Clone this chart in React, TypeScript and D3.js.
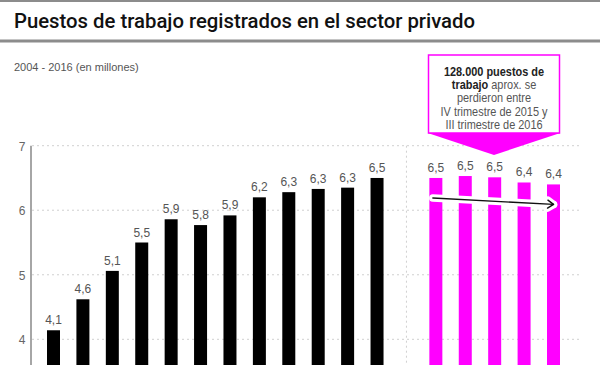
import {useEffect, useRef} from "react";
import * as d3 from "d3";

// periodos (los de la derecha son trimestres, separados por un hueco)
const annualPeriods = ["2004", "2005", "2006", "2007", "2008", "2009", "2010", "2011", "2012", "2013", "2014", "2015"];
const annualValues = [4.14, 4.62, 5.06, 5.5, 5.86, 5.77, 5.92, 6.2, 6.28, 6.33, 6.35, 6.5];
const annualLabels = ["4,1", "4,6", "5,1", "5,5", "5,9", "5,8", "5,9", "6,2", "6,3", "6,3", "6,3", "6,5"];

const quarterPeriods = ["IV-2015", "I-2016", "II-2016", "III-2016", "IV-2016"];
const quarterValues = [6.5, 6.53, 6.51, 6.43, 6.4];
const quarterLabels = ["6,5", "6,5", "6,5", "6,4", "6,4"];

const yTicks = [4, 5, 6, 7];

// flecha de la caída: [valor inicio, valor fin]
const arrowValues = [6.19, 6.09];

const noteLines = [
  [{t: "128.000 puestos de", b: true}],
  [{t: "trabajo", b: true}, {t: " aprox. se", b: false}],
  [{t: "perdieron entre", b: false}],
  [{t: "IV trimestre de 2015 y", b: false}],
  [{t: "III trimestre de 2016", b: false}],
];

const MAGENTA = "#ff00ff";
const GAP = "__gap__";

export default function App() {
  const svgRef = useRef<SVGSVGElement>(null);

  useEffect(() => {
    if (!svgRef.current) return;
    const width = 600;
    const height = 365;

    const svg = d3.select(svgRef.current);
    svg.selectAll("*").remove();

    const domain = [...annualPeriods, GAP, ...quarterPeriods];
    const x = d3.scaleBand<string>().domain(domain).range([47, 560]).paddingInner(0.558).paddingOuter(0);
    const y = d3.scaleLinear().domain([4, 7]).range([339.3, 145.7]);
    const cx = (k: string) => (x(k) as number) + x.bandwidth() / 2;

    // bandas grises arriba
    svg.append("rect").attr("x", 0).attr("y", 0).attr("width", width).attr("height", 2).attr("fill", "#8c8c8c");
    svg.append("rect").attr("x", 0).attr("y", 39.5).attr("width", width).attr("height", 3).attr("fill", "#8c8c8c");

    svg
      .append("text")
      .attr("x", 14)
      .attr("y", 27.5)
      .attr("textLength", 461)
      .attr("lengthAdjust", "spacingAndGlyphs")
      .style("font-family", "Roboto, 'Liberation Sans', Arial, sans-serif")
      .style("font-size", "21px")
      .style("font-weight", 500)
      .attr("fill", "#111")
      .text("Puestos de trabajo registrados en el sector privado");

    svg
      .append("text")
      .attr("x", 14)
      .attr("y", 71)
      .style("font-family", "'Liberation Sans', Arial, sans-serif")
      .style("font-size", "11px")
      .attr("fill", "#555")
      .text("2004 - 2016 (en millones)");

    // grilla punteada
    svg
      .selectAll(".grid")
      .data(yTicks)
      .enter()
      .append("line")
      .attr("x1", 32)
      .attr("x2", 580)
      .attr("y1", (d) => y(d))
      .attr("y2", (d) => y(d))
      .attr("stroke", "#d0d0d0")
      .attr("stroke-width", 1)
      .attr("stroke-dasharray", "2,3");

    // separador entre años y trimestres
    const sepX = cx(GAP);
    svg
      .append("line")
      .attr("x1", sepX)
      .attr("x2", sepX)
      .attr("y1", y(7))
      .attr("y2", height)
      .attr("stroke", "#d0d0d0")
      .attr("stroke-dasharray", "2,3");

    // eje y
    svg.append("line").attr("x1", 31).attr("x2", 31).attr("y1", y(7)).attr("y2", height).attr("stroke", "#888").attr("stroke-width", 1.5);
    svg
      .selectAll(".ytick")
      .data(yTicks)
      .enter()
      .append("text")
      .attr("x", 22)
      .attr("y", (d) => y(d) + 5)
      .attr("text-anchor", "middle")
      .style("font-family", "'Liberation Sans', Arial, sans-serif")
      .style("font-size", "12px")
      .attr("fill", "#666")
      .text((d) => d);

    const drawBars = (keys: string[], values: number[], labels: string[], color: string) => {
      const data = keys.map((k, i) => ({k, v: values[i], l: labels[i]}));
      svg
        .append("g")
        .selectAll("rect")
        .data(data)
        .enter()
        .append("rect")
        .attr("x", (d) => x(d.k) as number)
        .attr("y", (d) => y(d.v))
        .attr("width", x.bandwidth())
        .attr("height", (d) => height - y(d.v) + 5)
        .attr("fill", color);
      svg
        .append("g")
        .selectAll("text")
        .data(data)
        .enter()
        .append("text")
        .attr("x", (d) => cx(d.k))
        .attr("y", (d) => y(d.v) - 6)
        .attr("text-anchor", "middle")
        .style("font-family", "'Liberation Sans', Arial, sans-serif")
        .style("font-size", "12px")
        .attr("fill", "#555")
        .text((d) => d.l);
    };

    drawBars(annualPeriods, annualValues, annualLabels, "#000");
    drawBars(quarterPeriods, quarterValues, quarterLabels, MAGENTA);

    // flecha con halo blanco
    const first = quarterPeriods[0];
    const last = quarterPeriods[quarterPeriods.length - 1];
    const ax1 = cx(first) - 3;
    const ax2 = cx(last);
    const ay1 = y(arrowValues[0]);
    const ay2 = y(arrowValues[1]);
    const ang = Math.atan2(ay2 - ay1, ax2 - ax1);
    const head = (len: number, a: number) => [ax2 - len * Math.cos(ang - a), ay2 - len * Math.sin(ang - a)];
    const h1 = head(7, 0.6);
    const h2 = head(7, -0.6);
    const headPath = `M${h1[0]},${h1[1]} L${ax2},${ay2} L${h2[0]},${h2[1]}`;
    const shaft = `M${ax1},${ay1} L${ax2},${ay2}`;
    [{c: "#fff", w: 7.5}, {c: "#111", w: 1.4}].forEach((s) => {
      svg.append("path").attr("d", shaft).attr("fill", "none").attr("stroke", s.c).attr("stroke-width", s.w).attr("stroke-linecap", "round");
      svg
        .append("path")
        .attr("d", headPath)
        .attr("fill", "none")
        .attr("stroke", s.c)
        .attr("stroke-width", s.w)
        .attr("stroke-linecap", "round")
        .attr("stroke-linejoin", "round");
    });

    // cuadro de anotación
    const bx1 = 428.5;
    const bx2 = 559.5;
    const by1 = 55;
    const by2 = 133;
    const tipY = 155;
    const midX = (bx1 + bx2) / 2;
    svg
      .append("rect")
      .attr("x", bx1)
      .attr("y", by1)
      .attr("width", bx2 - bx1)
      .attr("height", by2 - by1)
      .attr("fill", "#fff")
      .attr("stroke", MAGENTA)
      .attr("stroke-width", 1.5);
    svg
      .append("path")
      .attr("d", `M${bx1 - 0.75},${by2} L${bx2 + 0.75},${by2} L${midX},${tipY} Z`)
      .attr("fill", MAGENTA);

    // texto condensado: se escala horizontalmente
    const noteG = svg.append("g");
    const note = noteG
      .append("text")
      .attr("text-anchor", "middle")
      .style("font-family", "'Liberation Sans', Arial, sans-serif")
      .style("font-size", "12.5px");
    const tspans: SVGTSpanElement[] = [];
    noteLines.forEach((line, i) => {
      const tl = note.append("tspan").attr("x", 0).attr("y", 76 + i * 13.2);
      tspans.push(tl.node() as SVGTSpanElement);
      line.forEach((seg) => {
        tl.append("tspan")
          .attr("font-weight", seg.b ? "bold" : "normal")
          .attr("fill", seg.b ? "#222" : "#555")
          .text(seg.t);
      });
    });
    const w4 = tspans[3].getComputedTextLength() || 125;
    const k = 107 / w4;
    noteG.attr("transform", `translate(${midX},0) scale(${k},1)`);
  }, []);

  return (
    <div style={{position: "absolute", left: 0, top: 0, width: 600, height: 365, background: "#fff"}}>
      <svg ref={svgRef} width={600} height={365} style={{display: "block"}}></svg>
    </div>
  );
}
